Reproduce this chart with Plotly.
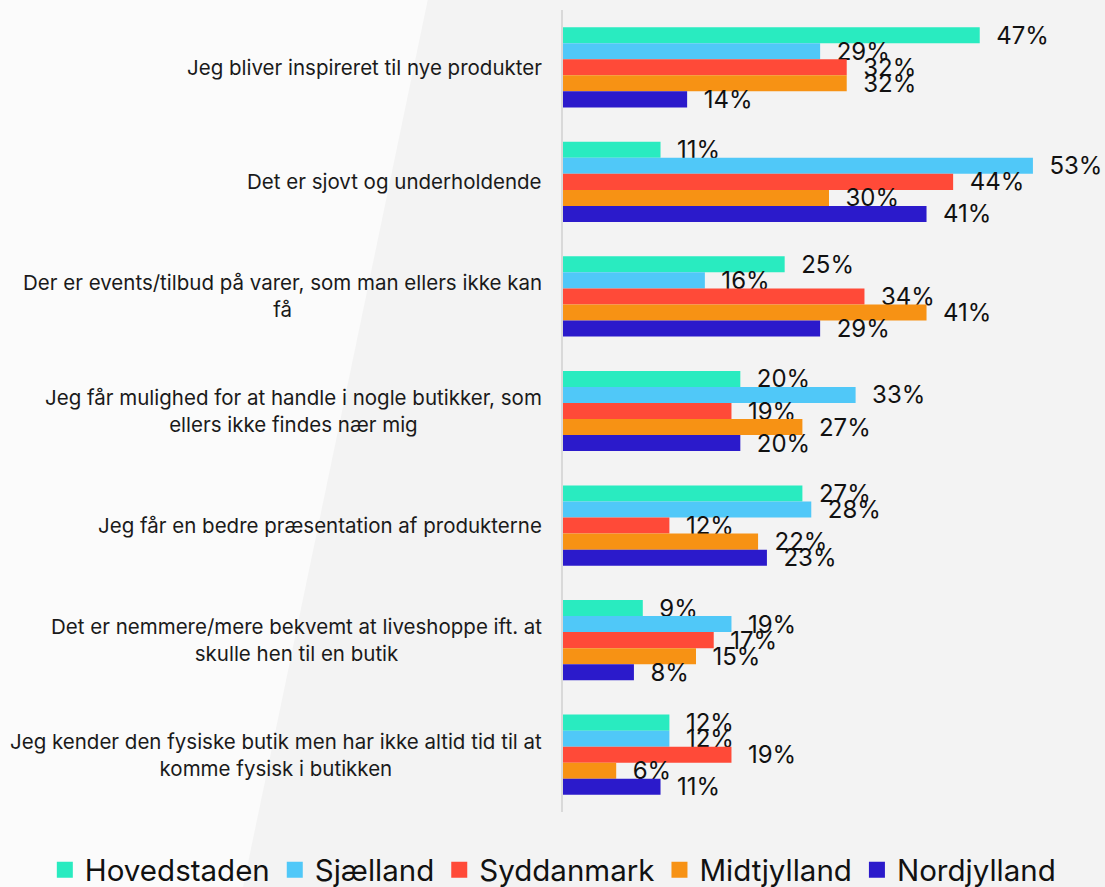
import plotly.graph_objects as go

categories = [
    "Jeg bliver inspireret til nye produkter",
    "Det er sjovt og underholdende",
    "Der er events/tilbud på varer, som man ellers ikke kan<br>få",
    "Jeg får mulighed for at handle i nogle butikker, som<br>ellers ikke findes nær mig",
    "Jeg får en bedre præsentation af produkterne",
    "Det er nemmere/mere bekvemt at liveshoppe ift. at<br>skulle hen til en butik",
    "Jeg kender den fysiske butik men har ikke altid tid til at<br>komme fysisk i butikken",
]
series_names = ["Hovedstaden", "Sjælland", "Syddanmark", "Midtjylland", "Nordjylland"]
hovedstaden = [47, 11, 25, 20, 27, 9, 12]
sjaelland = [29, 53, 16, 33, 28, 19, 12]
syddanmark = [32, 44, 34, 19, 12, 17, 19]
midtjylland = [32, 30, 41, 27, 22, 15, 6]
nordjylland = [14, 41, 29, 20, 23, 8, 11]
series_values = [hovedstaden, sjaelland, syddanmark, midtjylland, nordjylland]
colors = ["#29EBC0", "#50C8F8", "#FF4A38", "#F79214", "#2B1ACB"]

FONT = "Inter, Roboto, 'Liberation Sans', sans-serif"

fig = go.Figure()
for name, vals, col in zip(series_names, series_values, colors):
    fig.add_trace(go.Bar(
        y=categories, x=vals, name=name, orientation="h",
        marker=dict(color=col, line=dict(width=0)),
        text=["\u00a0\u00a0" + f"{v}%" for v in vals],
        textposition="outside", constraintext="none", cliponaxis=False,
        textfont=dict(size=24, color="#111111", family=FONT),
        showlegend=False,
    ))
# legend-only entries (no data drawn) to get larger square symbols
for name, col in zip(series_names, colors):
    fig.add_trace(go.Scatter(
        x=[None], y=[None], mode="markers", name=name,
        marker=dict(symbol="square", size=18, color=col),
        hoverinfo="skip",
    ))

annotations = []
for c in categories:
    annotations.append(dict(
        x=0, xref="paper", y=c, yref="y", xanchor="right", xshift=-19,
        text=c, showarrow=False, align="center",
        font=dict(size=20.5, color="#1a1a1a", family=FONT),
    ))

# subtle diagonal background panel
bg_shape = dict(
    type="path", xref="paper", yref="paper", layer="below",
    path="M -1.06 1.02 L -0.2519 1.02 L -0.6015 -0.0935 L -1.06 -0.0935 Z",
    fillcolor="#fbfbfb", line=dict(width=0),
)

fig.update_layout(
    width=1105, height=887,
    margin=dict(l=563, r=10, t=10, b=75, autoexpand=False),
    paper_bgcolor="#f3f3f3", plot_bgcolor="rgba(0,0,0,0)",
    barmode="group", bargap=0.3, bargroupgap=0,
    font=dict(family=FONT, color="#111111"),
    xaxis=dict(type="linear", range=[0, 60], showgrid=False, zeroline=False,
               showticklabels=False, showline=False),
    yaxis=dict(type="category", autorange="reversed", showgrid=False, zeroline=False,
               showticklabels=False, showline=True, linecolor="#d9d9d9",
               linewidth=2, ticks=""),
    legend=dict(orientation="h", xref="paper", x=-0.974, xanchor="left",
                yref="paper", y=-0.0723, yanchor="middle",
                font=dict(size=29.5, color="#111111", family=FONT),
                bgcolor="rgba(0,0,0,0)", itemwidth=30),
    annotations=annotations,
    shapes=[bg_shape],
)

fig.write_html("out.html")
